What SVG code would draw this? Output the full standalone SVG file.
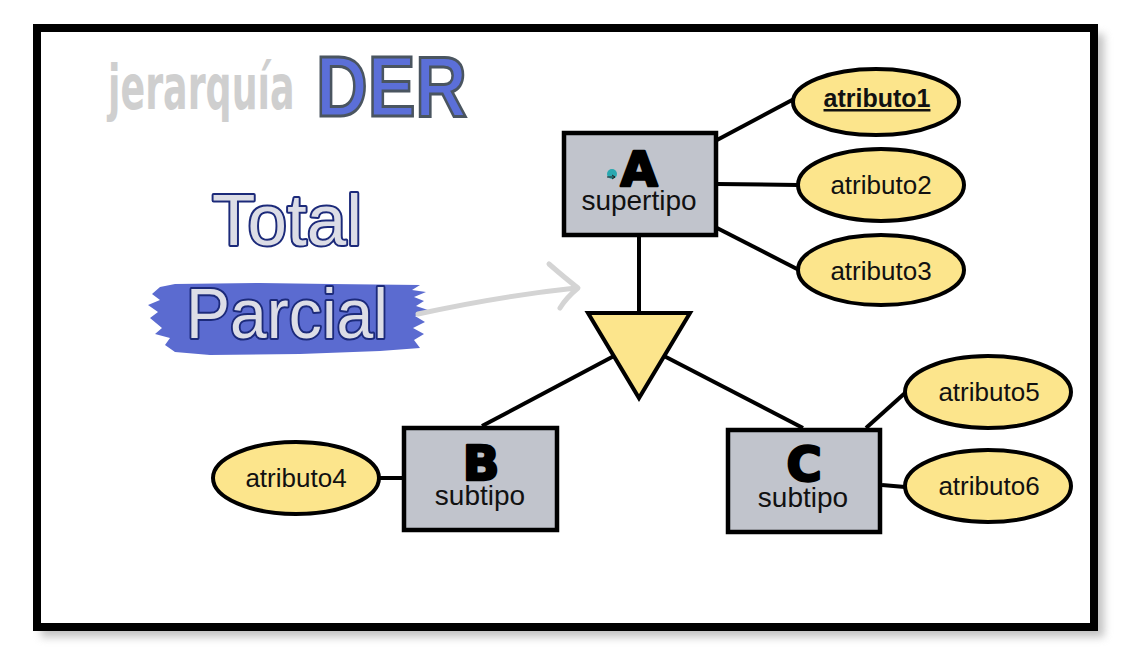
<svg xmlns="http://www.w3.org/2000/svg" width="1128" height="651" viewBox="0 0 1128 651">
<style>
.ent{fill:#c1c4cc;stroke:#000;stroke-width:4.5}
.att{fill:#fce58c;stroke:#000;stroke-width:4}
.lnk{stroke:#000;stroke-width:4;fill:none}
.t{font-family:"Liberation Sans",Arial,sans-serif;fill:#111;text-anchor:middle}
.big{font-family:"DejaVu Sans",sans-serif;font-weight:bold;font-size:48px;fill:#000;stroke:#000;stroke-width:2.5;stroke-linejoin:round;text-anchor:middle}
.out{font-family:"Liberation Sans",Arial,sans-serif;fill:#dcdde6;stroke:#1c2a7a;stroke-width:4;paint-order:stroke;stroke-linejoin:round}
</style>
<defs>
<filter id="sh" x="-5%" y="-5%" width="110%" height="110%"><feGaussianBlur stdDeviation="4"/></filter>
</defs>
<rect width="1128" height="651" fill="#fff"/>
<!-- frame -->
<rect x="41" y="34" width="1063" height="603" fill="#999" opacity="0.6" filter="url(#sh)"/>
<rect x="37" y="28" width="1057" height="599" fill="#fff" stroke="#000" stroke-width="8"/>

<!-- title -->
<g id="title">
<text transform="translate(108,109) scale(0.65,1.12)" font-family="DejaVu Sans" font-weight="bold" font-size="56" fill="#cfcfcf">jerarquía</text>
<text x="316" y="116" font-family="Liberation Sans,Arial,sans-serif" font-weight="bold" font-size="85" fill="#5b6fd8" stroke="#4a5560" stroke-width="3" textLength="151" lengthAdjust="spacingAndGlyphs">DER</text>
</g>

<!-- Total / Parcial -->
<g id="total">
<text class="out" x="212" y="245" font-size="72" textLength="150" lengthAdjust="spacingAndGlyphs">Total</text>
</g>
<g id="parcial">
<path d="M160,287 L175,284 L260,283 L330,284 L420,285 L412,290 L426,292 L414,297 L424,301 L416,306 L428,310 L415,316 L425,322 L413,328 L424,334 L414,340 L420,348 L380,351 L300,354 L210,355 L175,352 L165,345 L170,338 L155,334 L162,328 L150,318 L158,312 L148,305 L160,300 L152,294 Z" fill="#5b6bd0"/>
<text class="out" x="186" y="338" font-size="71" textLength="202" lengthAdjust="spacingAndGlyphs">Parcial</text>
<path d="M418,314 Q500,296 576,288" stroke="#d4d4d4" stroke-width="5" fill="none" stroke-linecap="round"/>
<path d="M549,264 Q565,278 578,288 Q566,298 560,308" stroke="#d4d4d4" stroke-width="5" fill="none" stroke-linecap="round" stroke-linejoin="round"/>
</g>

<!-- connectors -->
<g id="connectors">
<line class="lnk" x1="717" y1="140" x2="794" y2="99"/>
<line class="lnk" x1="717" y1="184" x2="798" y2="185"/>
<line class="lnk" x1="717" y1="228" x2="799" y2="270"/>
<line class="lnk" x1="639" y1="236" x2="639" y2="314"/>
<line class="lnk" x1="614" y1="356" x2="482" y2="426"/>
<line class="lnk" x1="664" y1="356" x2="803" y2="428"/>
<line class="lnk" x1="380" y1="478" x2="403" y2="478"/>
<line class="lnk" x1="866" y1="428" x2="905" y2="393"/>
<line class="lnk" x1="882" y1="485" x2="905" y2="487"/>
</g>

<!-- triangle -->
<g id="isa">
<polygon points="588,313 690,313 639,398" fill="#fce58c" stroke="#000" stroke-width="4" stroke-linejoin="miter"/>
</g>

<!-- entity A -->
<g id="nodeA">
<rect class="ent" x="564" y="133" width="152" height="102"/>
<text class="big" x="639" y="186">A</text>
<text class="t" x="639" y="210" font-size="28">supertipo</text>
<circle cx="612" cy="174" r="5" fill="#2aa8b0"/>
<path d="M607,177 L615,177 M612,175 L615,177 L612,179" stroke="#222" stroke-width="1" fill="none"/>
</g>

<!-- entity B -->
<g id="nodeB">
<rect class="ent" x="404" y="428" width="153" height="102"/>
<text class="big" x="481" y="480">B</text>
<text class="t" x="480" y="505" font-size="28">subtipo</text>
</g>

<!-- entity C -->
<g id="nodeC">
<rect class="ent" x="728" y="430" width="152" height="102"/>
<text class="big" x="804" y="481">C</text>
<text class="t" x="803" y="507" font-size="28">subtipo</text>
</g>

<!-- attributes -->
<g id="atributo1">
<ellipse class="att" cx="876" cy="102" rx="83" ry="33"/>
<text class="t" x="877" y="107" font-size="25" font-weight="bold" text-decoration="underline">atributo1</text>
</g>
<g id="atributo2">
<ellipse class="att" cx="881" cy="185" rx="83" ry="36"/>
<text class="t" x="881" y="194" font-size="26">atributo2</text>
</g>
<g id="atributo3">
<ellipse class="att" cx="881" cy="270" rx="83" ry="35"/>
<text class="t" x="881" y="280" font-size="26">atributo3</text>
</g>
<g id="atributo4">
<ellipse class="att" cx="296" cy="478" rx="83" ry="36"/>
<text class="t" x="296" y="487" font-size="26">atributo4</text>
</g>
<g id="atributo5">
<ellipse class="att" cx="988" cy="392" rx="83" ry="36"/>
<text class="t" x="989" y="401" font-size="26">atributo5</text>
</g>
<g id="atributo6">
<ellipse class="att" cx="988" cy="486" rx="83" ry="36"/>
<text class="t" x="989" y="495" font-size="26">atributo6</text>
</g>
</svg>
